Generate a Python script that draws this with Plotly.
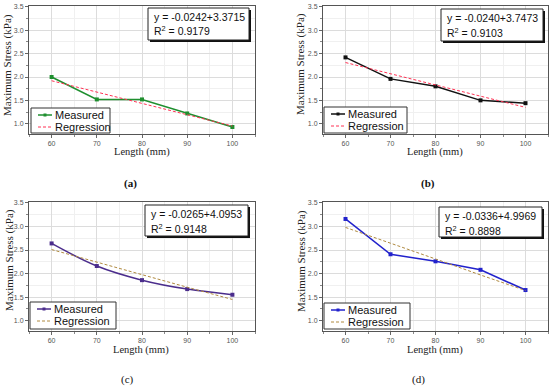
import plotly.graph_objects as go

length = [60, 70, 80, 90, 100]

meas_a = [2.00, 1.52, 1.52, 1.22, 0.93]
reg_a = [1.92, 1.68, 1.44, 1.19, 0.95]
meas_b = [2.42, 1.96, 1.80, 1.50, 1.44]
reg_b = [2.31, 2.07, 1.83, 1.59, 1.35]
meas_c = [2.64, 2.16, 1.86, 1.67, 1.55]
reg_c = [2.51, 2.24, 1.98, 1.71, 1.45]
meas_d = [3.16, 2.41, 2.26, 2.08, 1.65]
reg_d = [2.98, 2.65, 2.31, 1.97, 1.64]

eq_text = ["y = -0.0242+3.3715", "y = -0.0240+3.7473", "y = -0.0265+4.0953", "y = -0.0336+4.9969"]
r2_text = ["R<sup>2</sup> = 0.9179", "R<sup>2</sup> = 0.9103", "R<sup>2</sup> = 0.9148", "R<sup>2</sup> = 0.8898"]
panel_labels = ["<b>(a)</b>", "<b>(b)</b>", "(c)", "(d)"]
legend_names = ["Measured", "Regression"]
x_title = "Length (mm)"
y_title = "Maximum Stress (kPa)"

W, H = 550, 388
# plot areas in pixels: x0, x1, ytop, ybottom
areas = [(29, 255, 6, 134), (323, 548, 6, 134), (29, 255, 202, 331), (323, 548, 202, 331)]
leg_box = [(31, 110, 108, 133), (324, 407, 107, 133), (30, 116, 302, 329), (324, 410, 303, 329)]
box_pos = [(148, 249, 8, 40), (441, 543, 9, 41), (145, 248, 205, 236), (439, 542, 207, 237)]
label_pos = [(130, 183), (428, 183), (127, 379), (418, 379)]
xtitle_pos = [(142, 152), (435, 152), (141, 350), (435, 350)]
ytitle_pos = [(8, 65), (301, 64), (9, 260), (301, 261)]

meas_all = [meas_a, meas_b, meas_c, meas_d]
reg_all = [reg_a, reg_b, reg_c, reg_d]
meas_colors = ["#1f8f2f", "#111111", "#4b2d8c", "#2222cc"]
reg_colors = ["#ff3355", "#ff3355", "#b08a40", "#b08a40"]
shapes_line = ["linear", "linear", "spline", "linear"]

def px(x):
    return x / W

def py(y):
    return 1 - y / H

fig = go.Figure()
shapes = []
annotations = []
layout = {}

for i in range(4):
    x0, x1, yt, yb = areas[i]
    sfx = "" if i == 0 else str(i + 1)
    xa = "x" + sfx
    ya = "y" + sfx
    fig.add_trace(go.Scatter(
        x=length, y=meas_all[i], mode="lines+markers", name="Measured",
        line=dict(color=meas_colors[i], width=1.5, shape=shapes_line[i]),
        marker=dict(symbol="square", size=4, color=meas_colors[i]),
        xaxis=xa, yaxis=ya, showlegend=False))
    fig.add_trace(go.Scatter(
        x=length, y=reg_all[i], mode="lines", name="Regression",
        line=dict(color=reg_colors[i], width=1, dash="3px,2px"),
        xaxis=xa, yaxis=ya, showlegend=False))
    layout["xaxis" + sfx] = dict(
        domain=[px(x0), px(x1)], anchor=ya, range=[55, 105], automargin=False,
        tickvals=length, ticks="outside", ticklen=3, tickcolor="#666",
        tickfont=dict(family="Liberation Sans", size=7, color="#555"),
        showline=True, linecolor="#555", linewidth=1, mirror=True,
        showgrid=True, gridcolor="#dcdcdc", gridwidth=1,
        minor=dict(dtick=5, showgrid=True, gridcolor="#f0f0f0", ticks="outside", ticklen=2, tickcolor="#888"),
        zeroline=False,
    )
    layout["yaxis" + sfx] = dict(
        domain=[py(yb), py(yt)], anchor=xa, range=[0.78, 3.52], automargin=False,
        tickvals=[1.0, 1.5, 2.0, 2.5, 3.0, 3.5], tickformat=".1f",
        ticks="outside", ticklen=3, tickcolor="#666",
        tickfont=dict(family="Liberation Sans", size=7, color="#555"),
        showline=True, linecolor="#555", linewidth=1, mirror=True,
        showgrid=True, gridcolor="#dcdcdc", gridwidth=1,
        minor=dict(dtick=0.25, showgrid=True, gridcolor="#f0f0f0", ticks="outside", ticklen=2, tickcolor="#888"),
        zeroline=False,
    )
    # axis titles
    xt, yt_ = xtitle_pos[i]
    annotations.append(dict(xref="paper", yref="paper", x=px(xt), y=py(yt_),
                            text=x_title, showarrow=False, xanchor="center", yanchor="middle",
                            font=dict(family="Liberation Serif", size=10.5, color="#222")))
    xt, yt_ = ytitle_pos[i]
    annotations.append(dict(xref="paper", yref="paper", x=px(xt), y=py(yt_),
                            text=y_title, showarrow=False, xanchor="center", yanchor="middle",
                            textangle=-90,
                            font=dict(family="Liberation Serif", size=11, color="#222")))
    # legend box (drawn manually for compact spacing)
    lx0, lx1, ly0, ly1 = leg_box[i]
    shapes.append(dict(type="rect", xref="paper", yref="paper",
                       x0=px(lx0), x1=px(lx1), y0=py(ly1), y1=py(ly0),
                       fillcolor="white", line=dict(color="#333", width=1), layer="above"))
    yc1 = ly0 + 7
    yc2 = ly0 + 19
    shapes.append(dict(type="line", xref="paper", yref="paper",
                       x0=px(lx0 + 7), x1=px(lx0 + 21), y0=py(yc1), y1=py(yc1),
                       line=dict(color=meas_colors[i], width=1.5), layer="above"))
    shapes.append(dict(type="rect", xref="paper", yref="paper",
                       x0=px(lx0 + 12.5), x1=px(lx0 + 15.5), y0=py(yc1 + 1.5), y1=py(yc1 - 1.5),
                       fillcolor=meas_colors[i], line=dict(width=0), layer="above"))
    shapes.append(dict(type="line", xref="paper", yref="paper",
                       x0=px(lx0 + 7), x1=px(lx0 + 21), y0=py(yc2), y1=py(yc2),
                       line=dict(color=reg_colors[i], width=1, dash="3px,2px"), layer="above"))
    for name, yc in zip(legend_names, [yc1, yc2]):
        annotations.append(dict(xref="paper", yref="paper", x=px(lx0 + 22), y=py(yc),
                                text=name, showarrow=False, xanchor="left", yanchor="middle",
                                font=dict(family="Liberation Sans", size=11, color="#111")))
    # equation box with shadow
    bx0, bx1, by0, by1 = box_pos[i]
    shapes.append(dict(type="rect", xref="paper", yref="paper",
                       x0=px(bx0 + 2), x1=px(bx1 + 2), y0=py(by1 + 2), y1=py(by0 + 2),
                       fillcolor="#111", line=dict(width=0), layer="above"))
    shapes.append(dict(type="rect", xref="paper", yref="paper",
                       x0=px(bx0), x1=px(bx1), y0=py(by1), y1=py(by0),
                       fillcolor="white", line=dict(color="#222", width=1), layer="above"))
    annotations.append(dict(xref="paper", yref="paper", x=px(bx0 + 4), y=py(by0 + 9),
                            text=eq_text[i], showarrow=False, xanchor="left", yanchor="middle",
                            font=dict(family="Liberation Sans", size=10.5, color="#111")))
    annotations.append(dict(xref="paper", yref="paper", x=px(bx0 + 4), y=py(by0 + 23),
                            text=r2_text[i], showarrow=False, xanchor="left", yanchor="middle",
                            font=dict(family="Liberation Sans", size=10.5, color="#111")))
    tx, ty = label_pos[i]
    annotations.append(dict(xref="paper", yref="paper", x=px(tx), y=py(ty),
                            text=panel_labels[i], showarrow=False, xanchor="center", yanchor="middle",
                            font=dict(family="Liberation Serif", size=11, color="#111")))

fig.update_layout(
    width=W, height=H, margin=dict(l=0, r=0, t=0, b=0, autoexpand=False),
    paper_bgcolor="white", plot_bgcolor="white",
    shapes=shapes, annotations=annotations, **layout,
)
fig.write_html("out.html", config={"displayModeBar": False},
               post_script="document.body.style.margin='0';document.body.style.padding='0';")
